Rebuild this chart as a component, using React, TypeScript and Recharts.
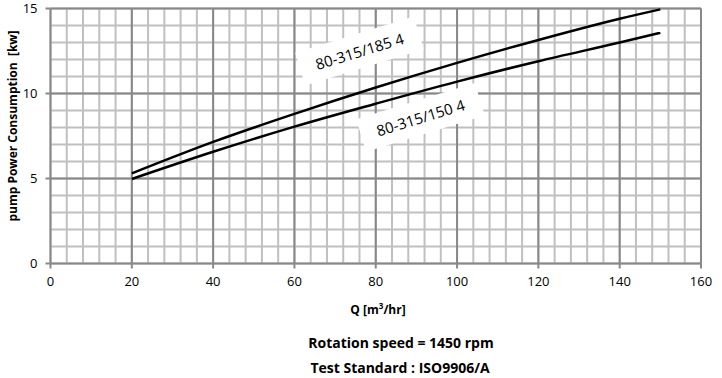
import { LineChart, Line, XAxis, YAxis, ReferenceLine, ReferenceDot } from 'recharts'

const flow = [20, 40, 60, 80, 100, 120, 140, 150]
const power185 = [5.3, 7.15, 8.8, 10.35, 11.8, 13.15, 14.4, 14.95]
const power150 = [4.97, 6.57, 8.05, 9.4, 10.7, 11.9, 13.0, 13.57]

const xTicks = [0, 20, 40, 60, 80, 100, 120, 140, 160]
const yTicks = [0, 5, 10, 15]
const xMinor = Array.from({ length: 41 }, (_, i) => i * 4)
const yMinor = Array.from({ length: 16 }, (_, i) => i)

const curveLabels = [
  { text: '80-315/185  4', x: 76, y: 12.5 },
  { text: '80-315/150  4', x: 91, y: 8.6 },
]

const data = flow.map((q, i) => ({ q, p185: power185[i], p150: power150[i] }))

const font = '"Open Sans", sans-serif'

const CurveLabel = ({ cx, cy, text }: any) => (
  <g transform={`rotate(-17 ${cx} ${cy})`}>
    <rect x={cx - 62} y={cy - 17} width={124} height={34} fill="#fff" />
    <text x={cx} y={cy} textAnchor="middle" dominantBaseline="central" fontFamily={font} fontSize={15} fill="#000">
      {text}
    </text>
  </g>
)

export default function App() {
  return (
    <div style={{ position: 'fixed', left: 0, top: 0, width: 722, height: 378, background: '#fff', fontFamily: font }}>
      <LineChart width={722} height={378} data={data} margin={{ top: 8.5, right: 21, bottom: 84.5, left: 0 }}>
        <XAxis
          dataKey="q"
          type="number"
          domain={[0, 160]}
          ticks={xTicks}
          height={30}
          stroke="#888"
          strokeWidth={2}
          tickSize={5}
          tickMargin={8}
          tick={{ fill: '#000', fontSize: 13, fontFamily: font }}
        />
        <YAxis
          type="number"
          domain={[0, 15]}
          ticks={yTicks}
          width={50.5}
          stroke="#888"
          strokeWidth={2}
          tickSize={5}
          tickMargin={8}
          tick={{ fill: '#000', fontSize: 13, fontFamily: font }}
        />
        {xMinor.map((v) => (
          <ReferenceLine key={'xm' + v} x={v} stroke="#c0c0c0" strokeWidth={2} />
        ))}
        {yMinor.map((v) => (
          <ReferenceLine key={'ym' + v} y={v} stroke="#c0c0c0" strokeWidth={2} />
        ))}
        {xTicks.slice(1).map((v) => (
          <ReferenceLine key={'xM' + v} x={v} stroke="#888" strokeWidth={2} />
        ))}
        {yTicks.slice(1).map((v) => (
          <ReferenceLine key={'yM' + v} y={v} stroke="#888" strokeWidth={2} />
        ))}
        {curveLabels.map((l) => (
          <ReferenceDot
            key={l.text}
            x={l.x}
            y={l.y}
            r={0}
            shape={(p: any) => <CurveLabel cx={p.cx} cy={p.cy} text={l.text} />}
          />
        ))}
        <Line dataKey="p185" type="monotone" stroke="#000" strokeWidth={2.5} dot={false} isAnimationActive={false} />
        <Line dataKey="p150" type="monotone" stroke="#000" strokeWidth={2.5} dot={false} isAnimationActive={false} />
      </LineChart>
      <div style={{ position: 'absolute', left: 12, top: 126, transform: 'translate(-50%, -50%) rotate(-90deg)', whiteSpace: 'nowrap', fontSize: 12, fontWeight: 700 }}>
        pump Power Consumption&nbsp;&nbsp;[kw]
      </div>
      <div style={{ position: 'absolute', left: 378, top: 309, transform: 'translate(-50%, -50%)', whiteSpace: 'nowrap', fontSize: 12, fontWeight: 700 }}>
        Q [m<sup style={{ fontSize: 8 }}>3</sup>/hr]
      </div>
      <div style={{ position: 'absolute', left: 401, top: 342, transform: 'translate(-50%, -50%)', whiteSpace: 'nowrap', fontSize: 14, fontWeight: 700 }}>
        Rotation speed = 1450 rpm
      </div>
      <div style={{ position: 'absolute', left: 400, top: 367, transform: 'translate(-50%, -50%)', whiteSpace: 'nowrap', fontSize: 14, fontWeight: 700 }}>
        Test Standard : ISO9906/A
      </div>
    </div>
  )
}
